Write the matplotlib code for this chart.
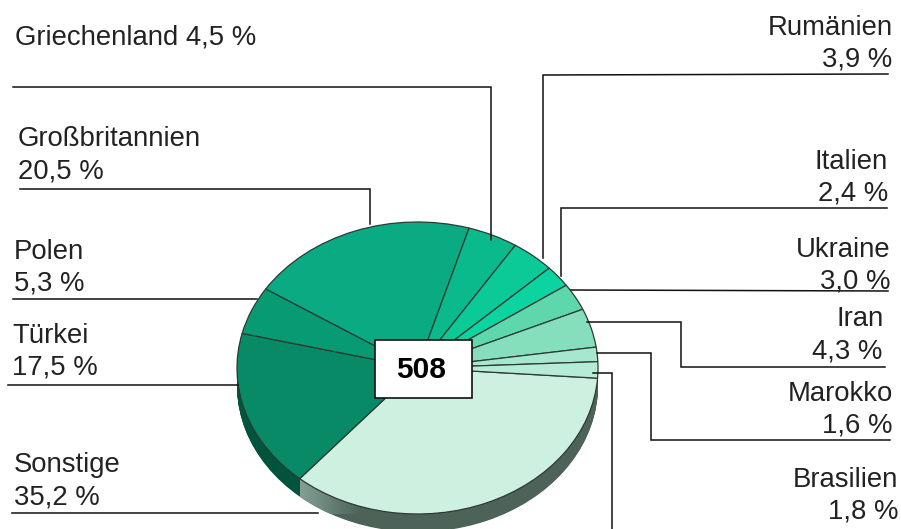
import numpy as np
import matplotlib
matplotlib.use("Agg")
import matplotlib.pyplot as plt
from matplotlib.patches import Rectangle, Polygon
from matplotlib.colors import LinearSegmentedColormap

plt.rcParams['font.family'] = ['Liberation Sans', 'DejaVu Sans']

categories = ["Sonstige", "Türkei", "Polen", "Großbritannien", "Griechenland", "Rumänien",
              "Italien", "Ukraine", "Iran", "Marokko", "Brasilien"]
shares = [35.2, 17.5, 5.3, 20.5, 4.5, 3.9, 2.4, 3.0, 4.3, 1.6, 1.8]
total_label = "508"

colors = ["#cdf0e1", "#078a65", "#089b73", "#0aab83", "#0aba8d", "#0bca98",
          "#0bd4a1", "#5ed7ac", "#86dfbc", "#a6e8ce", "#b6ebd6"]
side_colors = ["#4d6358", "#00533c", "#00533c", "#00533c", "#00533c", "#00533c",
               "#00533c", "#00533c", "#4d6358", "#4d6358", "#4d6358"]

W, H = 901, 529
CX, CY, RX, RY, DEPTH = 417.5, 368.0, 180.5, 146.0, 18.0
START = -4.0

fig = plt.figure(figsize=(W / 100, H / 100), dpi=100, facecolor="white")

pie_ax = fig.add_axes([(CX - RX) / W, 1 - (CY + RY) / H, 2 * RX / W, 2 * RY / H])
d = DEPTH / RY
# side wall of the disc
for off in np.linspace(d, 0.01, 24):
    w, _ = pie_ax.pie(shares, colors=side_colors, startangle=START, counterclock=False,
                      center=(0, -off), radius=1, wedgeprops=dict(linewidth=0))
    for p in w:
        p.set_clip_on(False)

# lighter gradient at the left end of the Sonstige wall
b = np.deg2rad(START - 3.6 * shares[0])
tt = np.linspace(b, b + np.deg2rad(22), 40)
xs = np.cos(tt)
ys = np.sin(tt)
poly = np.r_[np.c_[xs, ys], np.c_[xs, ys - d][::-1]]
cm = LinearSegmentedColormap.from_list("w", ["#84a092", "#4d6358"])
im = pie_ax.imshow(np.linspace(0, 1, 64)[None, :], cmap=cm, aspect="auto",
                   extent=(xs.min(), xs.max(), -1.2, 0), zorder=3)
clip = Polygon(poly, transform=pie_ax.transData, facecolor="none", edgecolor="none")
pie_ax.add_patch(clip)
im.set_clip_path(clip)
im.set_clip_on(True)

top, _ = pie_ax.pie(shares, colors=colors, startangle=START, counterclock=False,
                    center=(0, 0), radius=1,
                    wedgeprops=dict(linewidth=0.9, edgecolor="#2c3b34"))
for p in top:
    p.set_zorder(4)
    p.set_clip_on(False)
pie_ax.set_aspect("auto")
pie_ax.set_xlim(-1, 1)
pie_ax.set_ylim(-1, 1)
pie_ax.axis("off")

ov = fig.add_axes([0, 0, 1, 1], facecolor="none")
ov.set_xlim(0, W)
ov.set_ylim(H, 0)
ov.axis("off")

leaders = {
    "Griechenland": [(13, 87), (491, 87), (491, 240)],
    "Rumänien": [(888, 74), (543, 75), (543, 258)],
    "Italien": [(887, 208), (561, 208), (561, 276)],
    "Ukraine": [(888, 291), (571, 290)],
    "Iran": [(885, 367), (681, 367), (681, 322), (587, 322)],
    "Marokko": [(890, 440), (651, 440), (651, 353), (597, 353)],
    "Brasilien": [(612, 529), (612, 373), (593, 373)],
    "Großbritannien": [(20, 189), (370, 189), (370, 224)],
    "Polen": [(13, 299), (257, 299)],
    "Türkei": [(8, 385), (238, 385)],
    "Sonstige": [(12, 513), (318, 513)],
}
for pts in leaders.values():
    a = np.array(pts)
    ov.plot(a[:, 0], a[:, 1], color="#111111", lw=1.1, solid_joinstyle="miter", clip_on=True)

FS = 19.8
TC = "#222222"
pct = dict(zip(categories, shares))
def fmt(n):
    return f"{pct[n]:.1f}".replace(".", ",") + " %"

ov.text(15, 44, f"Griechenland {fmt('Griechenland')}", fontsize=FS, color=TC)
left = {"Großbritannien": (18, 146, 178), "Polen": (14, 259, 291),
        "Türkei": (12, 343, 375), "Sonstige": (14, 472, 504)}
for n, (x, y1, y2) in left.items():
    ov.text(x, y1, n, fontsize=FS, color=TC)
    ov.text(x, y2, fmt(n), fontsize=FS, color=TC)
right = {"Rumänien": (893, 892, 35, 67), "Italien": (888, 888, 169, 201),
         "Ukraine": (891, 890, 257, 289), "Iran": (884, 882, 326, 358),
         "Marokko": (893, 892, 401, 433), "Brasilien": (898, 898, 487, 519)}
for n, (x1, x2, y1, y2) in right.items():
    ov.text(x1, y1, n, fontsize=FS, ha="right", color=TC)
    ov.text(x2, y2, fmt(n), fontsize=FS, ha="right", color=TC)

ov.add_patch(Rectangle((374.5, 339.5), 97, 58, facecolor="white", edgecolor="#111111", lw=1.2, zorder=5))
ov.text(421.5, 367.5, total_label, fontsize=21.5, fontweight="bold", ha="center", va="center_baseline",
        color="black", zorder=6)

fig.savefig("out.png", dpi=100)
